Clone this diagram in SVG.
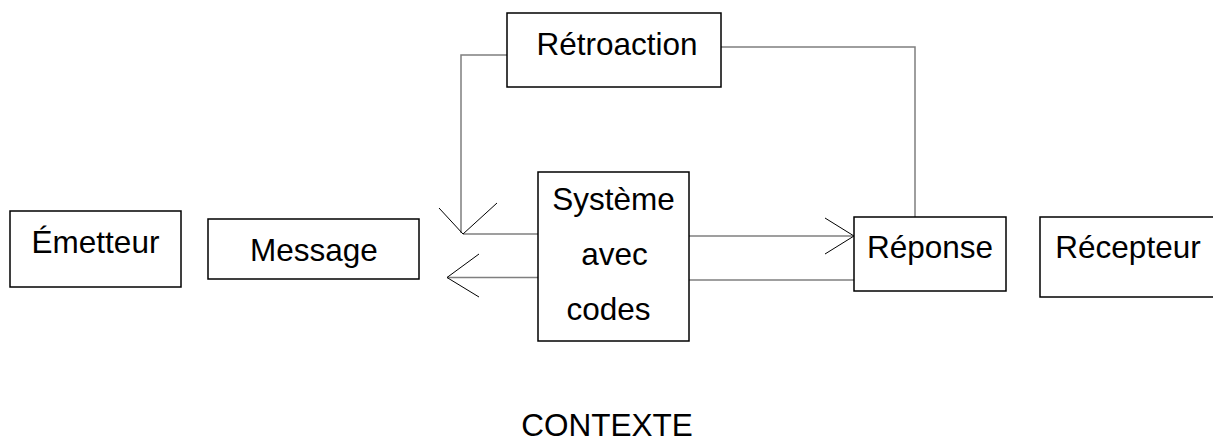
<svg xmlns="http://www.w3.org/2000/svg" width="1213" height="441" viewBox="0 0 1213 441">
<style>
.box{fill:#fff;stroke:#000;stroke-width:1.5}
.lbl{font-family:"Liberation Sans",Arial,sans-serif;font-size:31.5px;fill:#000;text-anchor:middle}
.con{fill:none;stroke:#7f7f7f;stroke-width:1.5}
.head{fill:none;stroke:#000;stroke-width:1}
</style>
<rect width="1213" height="441" fill="#fff"/>
<g id="connectors">
<polyline class="con" points="507,55 461,55 461,233"/>
<polyline class="con" points="721,47 915,47 915,217"/>
<line class="con" x1="538" y1="234" x2="463" y2="234"/>
<line class="con" x1="538" y1="277.5" x2="447" y2="277.5"/>
<line class="con" x1="689" y1="236" x2="854" y2="236"/>
<line class="con" x1="689" y1="280" x2="854" y2="280"/>
<polyline class="head" points="439,208 463,234 497,203"/>
<polyline class="head" points="479,254 447,277.5 479,297"/>
<polyline class="head" points="825,218 854,236 825,254"/>
</g>
<g id="retroaction">
<rect class="box" x="507" y="13" width="214" height="74"/>
<text class="lbl" x="617" y="55">Rétroaction</text>
</g>
<g id="systeme">
<rect class="box" x="538" y="172" width="151" height="169"/>
<text class="lbl" x="613.5" y="210">Système</text>
<text class="lbl" x="614.5" y="265">avec</text>
<text class="lbl" x="608.5" y="320">codes</text>
</g>
<g id="emetteur">
<rect class="box" x="10" y="211" width="171" height="76"/>
<text class="lbl" x="95.5" y="253">Émetteur</text>
</g>
<g id="message">
<rect class="box" x="208" y="219" width="211" height="60"/>
<text class="lbl" x="314" y="261">Message</text>
</g>
<g id="reponse">
<rect class="box" x="854" y="217" width="152" height="74"/>
<text class="lbl" x="930" y="258">Réponse</text>
</g>
<g id="recepteur">
<rect class="box" x="1040" y="217" width="180" height="80"/>
<text class="lbl" x="1128" y="258">Récepteur</text>
</g>
<g id="contexte">
<text class="lbl" x="607" y="436">CONTEXTE</text>
</g>
</svg>
